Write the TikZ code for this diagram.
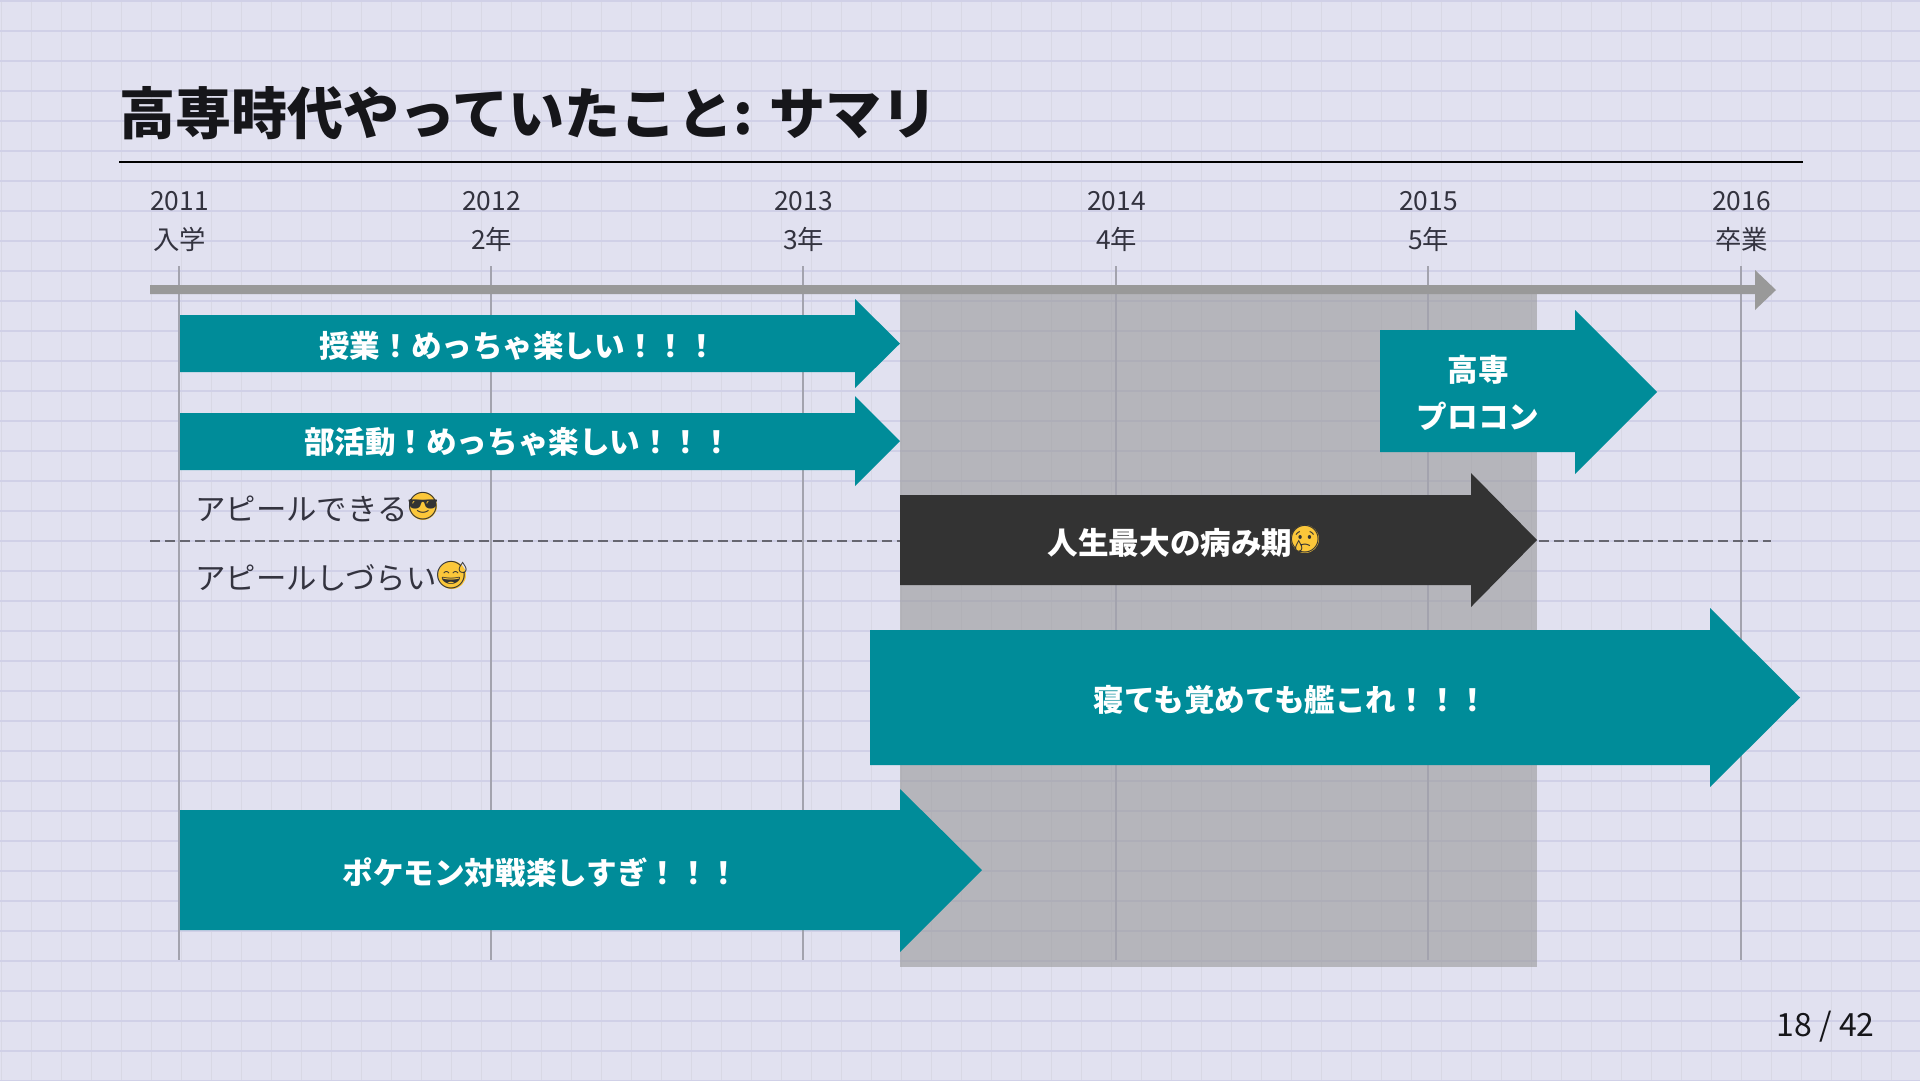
\documentclass[tikz,border=0pt]{standalone}
\usepackage{fontspec}
\setmainfont{Noto Sans CJK JP}
\newfontfamily\emojifont{Noto Emoji}
\definecolor{bgcol}{HTML}{E1E1F0}
\definecolor{gridh}{HTML}{D0D0E7}
\definecolor{gridv}{HTML}{D8D8E5}
\definecolor{tealcol}{HTML}{008C99}
\definecolor{darkcol}{HTML}{333333}
\definecolor{dashcol}{HTML}{666670}
\definecolor{inkcol}{HTML}{33333F}
\definecolor{titlecol}{HTML}{16161A}
\definecolor{axiscol}{HTML}{999999}
\definecolor{tickcol}{HTML}{A3A3AE}
\definecolor{shadecol}{HTML}{989899}
\definecolor{facecol}{HTML}{FBC73A}
\tikzset{
  yearlabel/.style={inner sep=0pt,font=\fontsize{15pt}{18pt}\selectfont,text=inkcol,align=center},
  barlabel/.style={inner sep=0pt,font=\fontsize{17.4pt}{26.4pt}\selectfont\bfseries,text=white,align=center},
  sidelabel/.style={inner sep=0pt,anchor=west,font=\fontsize{17.3pt}{20pt}\selectfont,text=inkcol},
  emojilabel/.style={inner sep=0pt,font=\fontsize{15.5pt}{16pt}\emojifont,text=black!80}
}
\begin{document}
\begin{tikzpicture}[x=0.02cm,y=-0.02cm]
    \useasboundingbox (0,0) rectangle (1920,1080);
    \fill [bgcol] (0,0) rectangle (1920,1080);

    %paper grid
    \foreach \x in {2,32,...,1922} {
        \draw [gridv,line width=0.8pt] (\x-0.5,0) to (\x-0.5,1080);
    }
    \foreach \y in {1,31,...,1081} {
        \draw [gridh,line width=0.8pt] (0,\y) to (1920,\y);
    }

    %title
    \node (title) [anchor=base west,inner sep=0pt,font=\fontsize{31.9pt}{34pt}\selectfont\bfseries,text=titlecol] at (119,134.5) {高専時代やっていたこと: サマリ};
    \draw [black,line width=0.6pt] (119,162) to (1803,162);

    %shaded period
    \fill [shadecol,fill opacity=0.6] (900,290) rectangle (1537,967);

    %years
    \foreach \x/\yr/\grade in {179/2011/入学,491/2012/2年,803/2013/3年,1116/2014/4年,1428/2015/5年,1741/2016/卒業} {
        \draw [tickcol,line width=0.8pt] (\x,266) to (\x,960);
        \node (year\yr) [yearlabel] at (\x+0.5,201) {\yr};
        \node (grade\yr) [yearlabel] at (\x+0.5,239) {\grade};
    }

    %axis
    \fill [axiscol] (150,285) -- (1755,285) -- (1755,270) -- (1776,290) -- (1755,310) -- (1755,294) -- (150,294) -- cycle;

    %border between the two halves
    \draw [dashcol,line width=1.5pt,dash pattern=on 5.7pt off 2.8pt] (150,541) to (1771,541);

    \node (can) [sidelabel] at (195,509) {アピールできる};
    \node (cannot) [sidelabel] at (195,578) {アピールしづらい};
    \fill [facecol] (423,506) circle (14);
    \node (canface) [emojilabel] at (423,506) {😎};
    \fill [facecol] (452,575) circle (14);
    \node (cannotface) [emojilabel] at (452,575) {😅};

    %classes
    \fill [tealcol] (180,315) -- (855,315) -- (855,299) -- (900,343.5) -- (855,388) -- (855,372) -- (180,372) -- cycle;
    \node (classes) [barlabel] at (518,346) {授業！めっちゃ楽しい！！！};

    %club
    \fill [tealcol] (180,413) -- (855,413) -- (855,396) -- (900,441) -- (855,486) -- (855,470) -- (180,470) -- cycle;
    \node (club) [barlabel] at (518,442) {部活動！めっちゃ楽しい！！！};

    %procon
    \fill [tealcol] (1380,330) -- (1575,330) -- (1575,310) -- (1657,392) -- (1575,474) -- (1575,452) -- (1380,452) -- cycle;
    \node (procon) [barlabel] at (1478,393) {高専\\プロコン};

    %low point
    \fill [darkcol] (900,495) -- (1471,495) -- (1471,473) -- (1537,540) -- (1471,607) -- (1471,585) -- (900,585) -- cycle;
    \node (low) [barlabel] at (1170,543) {人生最大の病み期};
    \fill [facecol] (1305,539) circle (14);
    \node (lowface) [emojilabel] at (1305,539) {😢};

    %ships
    \fill [tealcol] (870,630) -- (1710,630) -- (1710,608) -- (1800,697.5) -- (1710,787) -- (1710,765) -- (870,765) -- cycle;
    \node (ships) [barlabel] at (1291,700) {寝ても覚めても艦これ！！！};

    %pokemon
    \fill [tealcol] (180,810) -- (900,810) -- (900,789) -- (982,870) -- (900,952) -- (900,930) -- (180,930) -- cycle;
    \node (pokemon) [barlabel] at (541,873) {ポケモン対戦楽しすぎ！！！};

    %page number
    \node (page) [anchor=base east,inner sep=0pt,font=\fontsize{18.2pt}{20pt}\selectfont,text=titlecol] at (1875,1036) {18 / 42};
\end{tikzpicture}
\end{document}
